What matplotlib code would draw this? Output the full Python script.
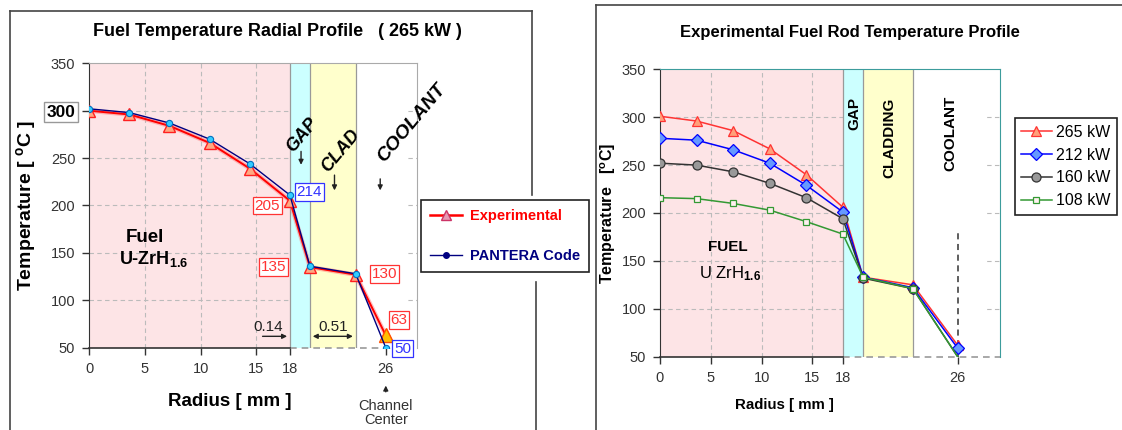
import matplotlib
matplotlib.use("Agg")
import matplotlib.pyplot as plt
from matplotlib.lines import Line2D

plt.rcParams["font.family"] = ["Liberation Sans", "DejaVu Sans"]
plt.rcParams["mathtext.fontset"] = "custom"
plt.rcParams["mathtext.rm"] = "Liberation Sans"
plt.rcParams["mathtext.bf"] = "Liberation Sans:bold"
plt.rcParams["mathtext.it"] = "Liberation Sans:italic"

W, H = 1122, 430

# ---- left chart data (radial position is schematic past 18 mm) ----
left_r = [0, 3.6, 7.2, 10.8, 14.4, 18, 19.8, 23.9, 26.6]
left_exp = [300, 296, 284, 266, 239, 205, 135, 127, 63]
left_pantera = [302, 298, 287, 270, 244, 211, 136, 128, 50]
left_zones = [0, 18, 19.8, 23.9]          # fuel | gap | clad | coolant
left_xmax = 29.4
left_xticks = [0, 5, 10, 15, 18, 26.6]
left_xlabels = ["0", "5", "10", "15", "18", "26"]

# ---- right chart data ----
right_r = [0, 3.6, 7.2, 10.8, 14.4, 18, 20.0, 24.9, 29.3]
powers = ["265 kW", "212 kW", "160 kW", "108 kW"]
t265 = [301, 296, 286, 267, 240, 206, 133, 125, 62]
t212 = [278, 276, 266, 252, 229, 201, 133, 122, 59]
t160 = [252, 250, 243, 231, 216, 194, 132, 121, 50]
t108 = [216, 215, 210, 203, 191, 178, 133, 121, 50]
right_zones = [0, 18, 20.0, 24.9]
right_xmax = 33.45
right_xticks = [0, 5, 10, 15, 18, 29.3]
right_xlabels = ["0", "5", "10", "15", "18", "26"]

yticks = [50, 100, 150, 200, 250, 300, 350]

PINK, CYAN, YELLOW = "#FDE4E6", "#CCFFFF", "#FFFFCC"
GRID = "#BBBBBB"


def px_axes(x0, y0, x1, y1):
    return fig.add_axes([x0 / W, 1 - y1 / H, (x1 - x0) / W, (y1 - y0) / H])


def fig_line(x0, y0, x1, y1, **kw):
    fig.add_artist(Line2D([x0 / W, x1 / W], [1 - y0 / H, 1 - y1 / H],
                          transform=fig.transFigure, **kw))


def setup(ax, zones, xmax, xticks, xlabels, cover_to, spine_col):
    ax.set_xlim(0, xmax)
    ax.set_ylim(50, 350)
    ax.axvspan(zones[0], zones[1], color=PINK, zorder=0.1, lw=0)
    for y in yticks[1:-1]:
        ax.axhline(y, color=GRID, lw=0.8, ls=(0, (4, 3)), zorder=0.3)
    for x in xticks[1:4]:
        ax.axvline(x, color=GRID, lw=0.8, ls=(0, (4, 3)), zorder=0.3)
    ax.axvspan(zones[1], zones[2], color=CYAN, zorder=0.5, lw=0)
    ax.axvspan(zones[2], zones[3], color=YELLOW, zorder=0.5, lw=0)
    ax.axvspan(zones[3], cover_to, color="white", zorder=0.5, lw=0)
    for z in zones[1:]:
        ax.axvline(z, color="#999999", lw=0.9, zorder=0.6)
    ax.set_yticks(yticks)
    ax.set_xticks(xticks)
    ax.set_xticklabels(xlabels)
    ax.tick_params(direction="out", length=5, width=1, colors="#333333",
                   labelsize=10.5, pad=5)
    ax.spines["left"].set_color("#333333")
    ax.spines["bottom"].set_bounds(0, zones[1])
    ax.spines["bottom"].set_color("#333333")
    ax.spines["bottom"].set_linewidth(1.2)
    ax.axhline(50, xmin=zones[1] / xmax, xmax=1, color="#999999", lw=1.2,
               ls=(0, (4, 3)), zorder=2, clip_on=False)
    for s in ("top", "right"):
        ax.spines[s].set_color(spine_col)


fig = plt.figure(figsize=(W / 100, H / 100), dpi=100)

# frames around the two panels
fc = "#444444"
fig_line(9.6, 11, 532, 11, color=fc, lw=1.2)
fig_line(9.6, 11, 9.6, 430, color=fc, lw=1.2)
fig_line(532, 11, 532, 195, color=fc, lw=1.2)
fig_line(536, 282, 536, 430, color=fc, lw=1.2)
fig_line(596, 5, 1122, 5, color=fc, lw=1.2)
fig_line(596, 5, 596, 430, color=fc, lw=1.2)

# ================= left chart =================
ax1 = px_axes(89.2, 63.3, 417, 347.7)
setup(ax1, left_zones, left_xmax, left_xticks, left_xlabels, 28.4, "#AAAAAA")

ax1.plot(left_r, left_exp, color="#FF8080", lw=3.2, alpha=0.5, zorder=2.8)
ax1.plot(left_r, left_exp, color="#FF0000", lw=1.4, marker="^", ms=8.5,
         mfc="#FFA882", mec="#FF2020", mew=1, zorder=3)
ax1.plot(left_r[-1:], left_exp[-1:], ls="none", marker="^", ms=10,
         mfc="#FFC000", mec="#FF5000", zorder=3.2)
ax1.plot(left_r, left_pantera, color="#000080", lw=1.0, marker="o", ms=4.5,
         mfc="#33CCFF", mec="#0070C0", mew=0.8, zorder=4)

for t in ax1.get_yticklabels():
    if t.get_text() == "300":
        t.set_fontweight("bold")
        t.set_fontsize(12.5)
        t.set_color("black")
        t.set_bbox(dict(boxstyle="square,pad=0.15", fc="white", ec="#999999", lw=1))

fig.text(277 / W, 1 - 31 / H, "Fuel Temperature Radial Profile   ( 265 kW )",
         ha="center", va="center", fontsize=13, fontweight="bold")
ax1.set_ylabel(r"Temperature [ $\mathbf{^{o}}$C ]", fontsize=14,
               fontweight="bold")
ax1.yaxis.set_label_coords(-0.155, 0.5)
ax1.set_xlabel("Radius [ mm ]", fontsize=13.5, fontweight="bold")
ax1.xaxis.set_label_coords(0.428, -0.159)

ax1.text(5.0, 166, "Fuel", ha="center", va="center", fontsize=13.5,
         fontweight="bold")
ax1.text(5.8, 144, r"U-ZrH$_{\mathbf{1.6}}$", ha="center", va="center",
         fontsize=13, fontweight="bold")

boxes = [("214", 19.75, 214, "#3333FF"), ("205", 15.96, 200, "#FF3333"),
         ("135", 16.5, 135, "#FF3333"), ("130", 26.5, 127.5, "#FF3333"),
         ("63", 27.8, 79, "#FF3333"), ("50", 28.1, 49, "#3333FF")]
for s, x, y, c in boxes:
    ax1.text(x, y, s, ha="center", va="center", fontsize=11, color=c, zorder=5,
             clip_on=False,
             bbox=dict(boxstyle="square,pad=0.12", fc="white", ec=c, lw=0.9))

for s, x, y, rot, fs in [("GAP", 19.1, 274, 50, 13), ("CLAD", 22.6, 258, 50, 13),
                         ("COOLANT", 28.9, 287, 50, 14)]:
    ax1.text(x, y, s, ha="center", va="center", rotation=rot, fontsize=fs,
             fontweight="bold", fontstyle="italic", zorder=5, clip_on=False)

arr = dict(arrowstyle="-|>", color="#222222", lw=1, mutation_scale=7)
for x, y0, y1 in [(19.0, 260, 240), (22.0, 235, 213), (26.1, 231, 213)]:
    ax1.annotate("", xy=(x, y1), xytext=(x, y0), arrowprops=arr, zorder=5)

ax1.text(16.05, 72, "0.14", ha="center", va="center", fontsize=11, color="#222222")
ax1.annotate("", xy=(18, 62), xytext=(15.3, 62),
             arrowprops=dict(arrowstyle="-|>", color="#222222", lw=1, mutation_scale=7))
ax1.text(21.9, 72, "0.51", ha="center", va="center", fontsize=11, color="#222222")
ax1.annotate("", xy=(23.9, 62), xytext=(19.8, 62),
             arrowprops=dict(arrowstyle="<|-|>", color="#222222", lw=1, mutation_scale=7))

ax1.annotate("", xy=(26.6, 13), xytext=(26.6, 0.5), annotation_clip=False,
             arrowprops=dict(arrowstyle="-|>", color="#222222", lw=1, mutation_scale=7))
ax1.text(26.6, -19, "Channel\nCenter", ha="center", va="center", fontsize=10.5,
         color="#333333", linespacing=1.05, clip_on=False)

leg1 = fig.legend(
    handles=[Line2D([], [], color="#FF0000", lw=1.8, marker="^", ms=7,
                    mfc="#E699B3", mec="#CC3366"),
             Line2D([], [], color="#000080", lw=1, marker="o", ms=4,
                    mfc="#000080", mec="#000080")],
    labels=["Experimental", "PANTERA Code"], loc="center",
    bbox_to_anchor=(505 / W, 1 - 236 / H), frameon=True, fancybox=False,
    edgecolor="#222222", framealpha=1, handlelength=2.2, labelspacing=1.75,
    borderpad=0.6, handletextpad=0.6, borderaxespad=0,
    prop=dict(weight="bold", size=10.5))
leg1.get_frame().set_linewidth(1.2)
for t, c in zip(leg1.get_texts(), ["#FF0000", "#000080"]):
    t.set_color(c)

# ================= right chart =================
ax2 = px_axes(660, 69.3, 999.8, 356.7)
setup(ax2, right_zones, right_xmax, right_xticks, right_xlabels, 32.0, "#3C9C9C")

series = [t265, t212, t160, t108]
colors = ["#FF3333", "#0000FF", "#333333", "#339933"]
markers = ["^", "D", "o", "s"]
faces = ["#FFA07A", "#6699FF", "#999999", "#FFF0F0"]
sizes = [7.5, 6, 6.5, 5]
marks = [None, None, list(range(8)), list(range(8))]
power_lines = []
for vals, lab, c, mk, mf, ms, me in zip(series, powers, colors, markers,
                                        faces, sizes, marks):
    ln, = ax2.plot(right_r, vals, color=c, lw=1.1, marker=mk, ms=ms, mfc=mf,
                   mec=c, mew=0.9, markevery=me, label=lab, zorder=3)
    power_lines.append(ln)

ax2.axvline(right_r[-1], ymin=0, ymax=(182 - 50) / 300, color="#333333",
            lw=1.1, ls=(0, (4, 3)), zorder=2)

fig.text(850 / W, 1 - 33 / H, "Experimental Fuel Rod Temperature Profile",
         ha="center", va="center", fontsize=12, fontweight="bold")
ax2.set_ylabel(r"Temperature   [$\mathbf{^{o}}$C]", fontsize=11.5,
               fontweight="bold")
ax2.yaxis.set_label_coords(-0.124, 0.5)
ax2.set_xlabel("Radius [ mm ]", fontsize=10.8, fontweight="bold")
ax2.xaxis.set_label_coords(0.365, -0.144)

ax2.text(6.7, 165, "FUEL", ha="center", va="center", fontsize=11,
         fontweight="bold")
ax2.text(6.9, 137, r"U ZrH$_{\mathbf{1.6}}$", ha="center", va="center",
         fontsize=12)
for s, x, y in [("GAP", 19.1, 304), ("CLADDING", 22.6, 279), ("COOLANT", 28.6, 283.5)]:
    ax2.text(x, y, s, ha="center", va="center", rotation=90, fontsize=11,
             fontweight="bold", zorder=5)

leg2 = fig.legend(handles=power_lines, labels=powers, loc="center",
                  bbox_to_anchor=(1066 / W, 1 - 166.5 / H),
                  frameon=True, fancybox=False, edgecolor="#222222",
                  framealpha=1, handlelength=1.9, labelspacing=0.5,
                  borderpad=0.4, handletextpad=0.3, borderaxespad=0,
                  fontsize=11.5)
leg2.get_frame().set_linewidth(1.2)

fig.savefig("out.png", dpi=100)
